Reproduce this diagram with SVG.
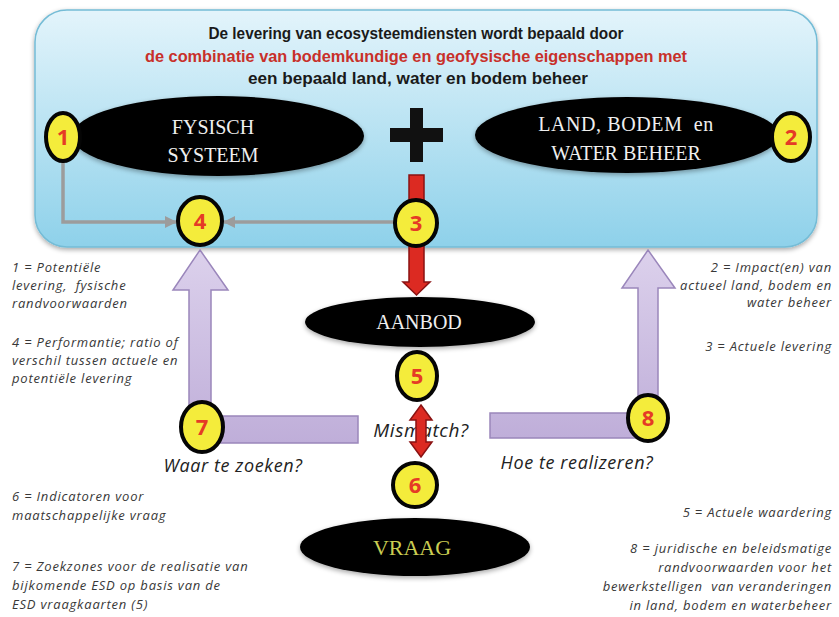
<svg xmlns="http://www.w3.org/2000/svg" width="839" height="617" viewBox="0 0 839 617">
  <defs>
    <linearGradient id="skyFill" x1="0" y1="0" x2="0" y2="1">
      <stop offset="0" stop-color="#e3f4fb"/>
      <stop offset="1" stop-color="#8ed1ea"/>
    </linearGradient>
    <linearGradient id="lilacFill" x1="0" y1="0" x2="0" y2="1">
      <stop offset="0" stop-color="#dcd1ec"/>
      <stop offset="1" stop-color="#bfaed9"/>
    </linearGradient>
    <filter id="softShadow" x="-10%" y="-10%" width="120%" height="130%">
      <feGaussianBlur in="SourceAlpha" stdDeviation="2.5"/>
      <feOffset dx="0" dy="2" result="b"/>
      <feComponentTransfer><feFuncA type="linear" slope="0.35"/></feComponentTransfer>
      <feMerge><feMergeNode/><feMergeNode in="SourceGraphic"/></feMerge>
    </filter>
    <marker id="greyHead" viewBox="0 0 12 12" refX="11" refY="6" markerWidth="12" markerHeight="12" markerUnits="userSpaceOnUse" orient="auto">
      <path d="M0,0 L12,6 L0,12 Z" fill="#9c9c9c"/>
    </marker>
    <style>
      .title{font-family:"Liberation Sans",Arial,sans-serif;font-weight:bold;font-size:16px;text-anchor:middle;fill:#1a1a1a}
      .oval{fill:#050505}
      .ovalText{font-family:"Liberation Serif","Times New Roman",serif;font-size:20px;fill:#efefef;text-anchor:middle}
      .badge ellipse{fill:#f4ec3b;stroke:#050505;stroke-width:4}
      .badge text{font-family:"Open Sans",Arial,sans-serif;font-weight:bold;font-size:22px;fill:#e53b26;text-anchor:middle}
      .note{font-family:"Open Sans",Arial,sans-serif;font-style:italic;font-size:13px;letter-spacing:0.8px;fill:#383838}
      .note.r{text-anchor:end}
      .ask{font-family:"Open Sans",Arial,sans-serif;font-style:italic;font-size:18px;letter-spacing:0.6px;fill:#222;text-anchor:middle}
      .grey{fill:none;stroke:#9c9c9c;stroke-width:3.5}
      .red{fill:#dc2a22;stroke:#8a1212;stroke-width:1.5}
      .lilac{fill:url(#lilacFill);stroke:#9a86bb;stroke-width:1.5}
    </style>
  </defs>

  <rect width="839" height="617" fill="#ffffff"/>

  <!-- upper panel -->
  <g id="panel">
    <rect x="35" y="10" width="782" height="237" rx="32" fill="url(#skyFill)" stroke="#74bcd6" stroke-width="1.5" filter="url(#softShadow)"/>
    <text class="title" x="416" y="39" textLength="415" lengthAdjust="spacingAndGlyphs">De levering van ecosysteemdiensten wordt bepaald door</text>
    <text class="title" x="416" y="62" textLength="542" lengthAdjust="spacingAndGlyphs" style="fill:#c8302a">de combinatie van bodemkundige en geofysische eigenschappen met</text>
    <text class="title" x="418" y="84" textLength="340" lengthAdjust="spacingAndGlyphs">een bepaald land, water en bodem beheer</text>
    <!-- plus sign -->
    <rect x="410" y="108" width="13" height="54" fill="#111"/>
    <rect x="390" y="128" width="53" height="14" fill="#111"/>
  </g>

  <!-- connectors -->
  <g id="connectors">
    <path class="grey" d="M63,161 V222 H176" marker-end="url(#greyHead)"/>
    <path class="grey" d="M395,222 H224" marker-end="url(#greyHead)"/>
    <path class="red" d="M409,175 H424 V282 H430 L416.5,295 L403,282 H409 Z"/>
    <path class="lilac" d="M200,250 L228,290 H211 V416 H358 V443 H189 V290 H173 Z"/>
    <path class="lilac" d="M648,250 L675,288 H658 V438 H490 V413 H638 V288 H622 Z"/>
  </g>

  <g id="fysisch-systeem">
    <ellipse class="oval" cx="218" cy="136" rx="146" ry="40" filter="url(#softShadow)"/>
    <text class="ovalText" x="213" y="134">FYSISCH</text>
    <text class="ovalText" x="213" y="162">SYSTEEM</text>
  </g>

  <g id="land-bodem-water">
    <ellipse class="oval" cx="627" cy="135" rx="152" ry="38" filter="url(#softShadow)"/>
    <text class="ovalText" x="626" y="131" xml:space="preserve" letter-spacing="0.6">LAND, BODEM  en</text>
    <text class="ovalText" x="626" y="160">WATER BEHEER</text>
  </g>

  <g id="aanbod">
    <ellipse class="oval" cx="420" cy="322" rx="115" ry="25" filter="url(#softShadow)"/>
    <text class="ovalText" x="419" y="329">AANBOD</text>
  </g>

  <g id="vraag">
    <ellipse class="oval" cx="415" cy="547" rx="115" ry="29" filter="url(#softShadow)"/>
    <text class="ovalText" x="412" y="555" style="fill:#cacd52;font-size:22px">VRAAG</text>
  </g>

  <g id="mismatch">
    <text class="ask" x="421" y="437" style="font-size:19px">Mismatch?</text>
    <path class="red" d="M421,405 L432,420 H426 V442 H432 L421,457 L410,442 H416 V420 H410 Z"/>
  </g>

  <g id="badge-1" class="badge"><ellipse cx="63" cy="137" rx="17" ry="24"/><text x="63" y="145">1</text></g>
  <g id="badge-2" class="badge"><ellipse cx="791" cy="137" rx="19" ry="24"/><text x="791" y="145">2</text></g>
  <g id="badge-3" class="badge"><ellipse cx="416" cy="223" rx="21" ry="23"/><text x="416" y="231">3</text></g>
  <g id="badge-4" class="badge"><ellipse cx="200" cy="221" rx="22" ry="24"/><text x="200" y="229">4</text></g>
  <g id="badge-5" class="badge"><ellipse cx="417" cy="376" rx="20" ry="24"/><text x="417" y="384">5</text></g>
  <g id="badge-6" class="badge"><ellipse cx="415" cy="485" rx="22" ry="22"/><text x="415" y="493">6</text></g>
  <g id="badge-7" class="badge"><ellipse cx="202" cy="427" rx="21" ry="25"/><text x="202" y="435">7</text></g>
  <g id="badge-8" class="badge"><ellipse cx="648" cy="418" rx="20" ry="23"/><text x="648" y="426">8</text></g>

  <g id="questions">
    <text class="ask" x="233" y="472">Waar te zoeken?</text>
    <text class="ask" x="577" y="469">Hoe te realizeren?</text>
  </g>

  <!-- legend notes -->
  <g id="notes-left">
    <text class="note" x="12" y="272">1 = Potentiële</text>
    <text class="note" x="12" y="290" xml:space="preserve">levering,  fysische</text>
    <text class="note" x="12" y="308">randvoorwaarden</text>
    <text class="note" x="12" y="347">4 = Performantie; ratio of</text>
    <text class="note" x="12" y="365">verschil tussen actuele en</text>
    <text class="note" x="12" y="383">potentiële levering</text>
    <text class="note" x="12" y="501">6 = Indicatoren voor</text>
    <text class="note" x="12" y="520">maatschappelijke vraag</text>
    <text class="note" x="12" y="571">7 = Zoekzones voor de realisatie van</text>
    <text class="note" x="12" y="590">bijkomende ESD op basis van de</text>
    <text class="note" x="12" y="609">ESD vraagkaarten (5)</text>
  </g>
  <g id="notes-right">
    <text class="note r" x="832" y="272">2 = Impact(en) van</text>
    <text class="note r" x="832" y="290">actueel land, bodem en</text>
    <text class="note r" x="832" y="307">water beheer</text>
    <text class="note r" x="832" y="351">3 = Actuele levering</text>
    <text class="note r" x="832" y="517">5 = Actuele waardering</text>
    <text class="note r" x="832" y="553">8 = juridische en beleidsmatige</text>
    <text class="note r" x="832" y="572">randvoorwaarden voor het</text>
    <text class="note r" x="832" y="591" xml:space="preserve">bewerkstelligen  van veranderingen</text>
    <text class="note r" x="832" y="610">in land, bodem en waterbeheer</text>
  </g>
</svg>
